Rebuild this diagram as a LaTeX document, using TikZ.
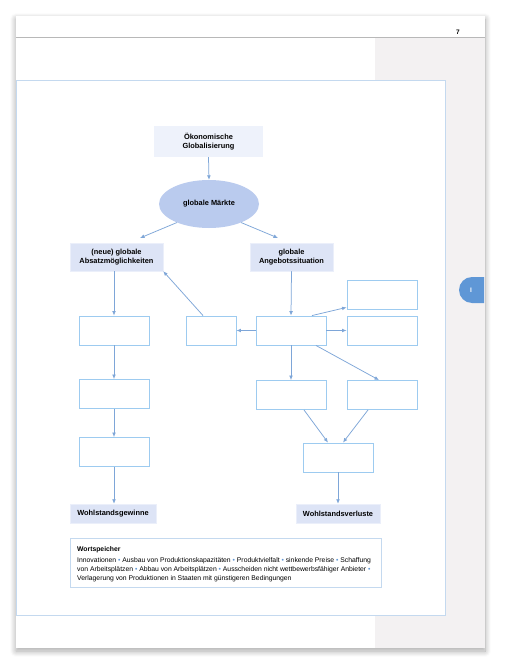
\documentclass[tikz,border=0pt]{standalone}
\usepackage{fontspec}
\setmainfont{Liberation Sans}
\usetikzlibrary{arrows.meta,shapes.geometric,shadows.blur}
\definecolor{boxline}{HTML}{9DCBF0}
\definecolor{arrowc}{HTML}{7EA6D8}
\definecolor{labelfill}{HTML}{DDE4F6}
\definecolor{topfill}{HTML}{EEF2FB}
\definecolor{ellfill}{HTML}{BACBEE}
\definecolor{framec}{HTML}{C4D9EF}
\definecolor{sidebar}{HTML}{F3F1F2}
\definecolor{tabc}{HTML}{5F97D6}
\definecolor{hline}{HTML}{B8B8B8}
\tikzset{
  emptybox/.style={draw=boxline, line width=0.9pt, fill=white, minimum width=70pt, minimum height=29pt, inner sep=0pt},
  labelfont/.style={font=\fontsize{7.4}{9}\selectfont\bfseries},
  labelbox/.style={fill=labelfill, draw=labelfill!60!white, line width=0.5pt, labelfont, align=center, inner sep=0pt},
  conn/.style={draw=arrowc, line width=0.75pt, -{Latex[length=4.5pt,width=3.8pt]}},
}
\begin{document}
\begin{tikzpicture}[x=1pt,y=-1pt]
\useasboundingbox (0,0) rectangle (505,669);
% page
\fill[white, blur shadow={shadow blur steps=12, shadow xshift=0pt, shadow yshift=-3pt, shadow opacity=35, shadow blur radius=6pt}] (16,16) rectangle (485,648);
\fill[sidebar] (375,37) rectangle (485,648);
\draw[hline, line width=0.6pt] (16,37) -- (485,37);
\node[font=\fontsize{6.5}{7}\selectfont\bfseries] (pnum) at (458,32) {7};
% tab
\fill[tabc] (484,277) -- (472,277) arc[start angle=90, end angle=270, radius=13pt] -- (484,303) -- cycle;
\node[text=white, font=\fontsize{6.5}{7}\selectfont\bfseries] (tabi) at (471,290) {I};
% frame
\draw[framec, fill=white, line width=0.7pt] (16,80) rectangle (445,615);

% nodes
\node[fill=topfill, minimum width=109pt, minimum height=31pt, inner sep=0pt, align=center, labelfont] (og) at (208.5,141.5) {Ökonomische\\Globalisierung};
\node[ellipse, fill=ellfill, minimum width=100pt, minimum height=48pt, inner sep=0pt, labelfont] (gm) at (209,204) {globale Märkte};
\node[labelbox, minimum width=93pt, minimum height=28pt] (ab) at (116.5,257) {(neue) globale\\Absatzmöglichkeiten};
\node[labelbox, minimum width=83pt, minimum height=28pt] (an) at (291.5,257) {globale\\Angebotssituation};

\node[emptybox] (a1) at (114,330.5) {};
\node[emptybox, minimum width=50pt] (a2) at (211,330.5) {};
\node[emptybox] (b) at (291,330.5) {};
\node[emptybox] (c1) at (382,294.5) {};
\node[emptybox] (c2) at (382,330.5) {};
\node[emptybox] (a3) at (114,394) {};
\node[emptybox] (d1) at (291,395) {};
\node[emptybox] (d2) at (382,395) {};
\node[emptybox] (a4) at (114,452) {};
\node[emptybox] (e) at (338,457.5) {};

\node[labelbox, minimum width=86pt, minimum height=19pt] (wg) at (113,513.5) {Wohlstandsgewinne};
\node[labelbox, minimum width=84pt, minimum height=19pt] (wv) at (338,513.5) {Wohlstandsverluste};

% connectors
\draw[conn] (og.south) -- (gm.north);
\draw[conn] (gm.210) -- (140,238);
\draw[conn] (gm.330) -- (278,238);
\draw[conn] (ab.south -| a1.north) -- (a1.north);
\draw[conn] (a1) -- (a3);
\draw[conn] (a3) -- (a4);
\draw[conn] (a4.south) -- (wg.north -| a4.south);
\draw[conn] (a2.north) ++(-8,0) coordinate (a2t) (a2t) -- (ab.south east);
\draw[conn] (an.south) -- (b.north);
\draw[conn] (b.west) -- (a2.east);
\draw[conn] (b.east) -- (c2.west);
\draw[conn] ([xshift=21pt]b.north) -- (c1.200);
\draw[conn] ([xshift=25pt]b.south) -- ([xshift=-3pt]d2.north);
\draw[conn] (b) -- (d1);
\draw[conn] ([xshift=13pt]d1.south) -- ([xshift=-10pt]e.north);
\draw[conn] ([xshift=-14pt]d2.south) -- ([xshift=5pt]e.north);
\draw[conn] (e.south) -- (wv.north);

% Wortspeicher
\draw[framec, line width=0.8pt] (70,538) rectangle (381,587);
\node[anchor=north west, align=left, inner sep=0pt, font=\fontsize{6.8}{9}\selectfont] (ws) at (77,546) {\textbf{Wortspeicher}\\[2pt]
Innovationen \textcolor{tabc}{•} Ausbau von Produktionskapazitäten \textcolor{tabc}{•} Produktvielfalt \textcolor{tabc}{•} sinkende Preise \textcolor{tabc}{•} Schaffung\\
von Arbeitsplätzen \textcolor{tabc}{•} Abbau von Arbeitsplätzen \textcolor{tabc}{•} Ausscheiden nicht wettbewerbsfähiger Anbieter \textcolor{tabc}{•}\\
Verlagerung von Produktionen in Staaten mit günstigeren Bedingungen};
\end{tikzpicture}
\end{document}
